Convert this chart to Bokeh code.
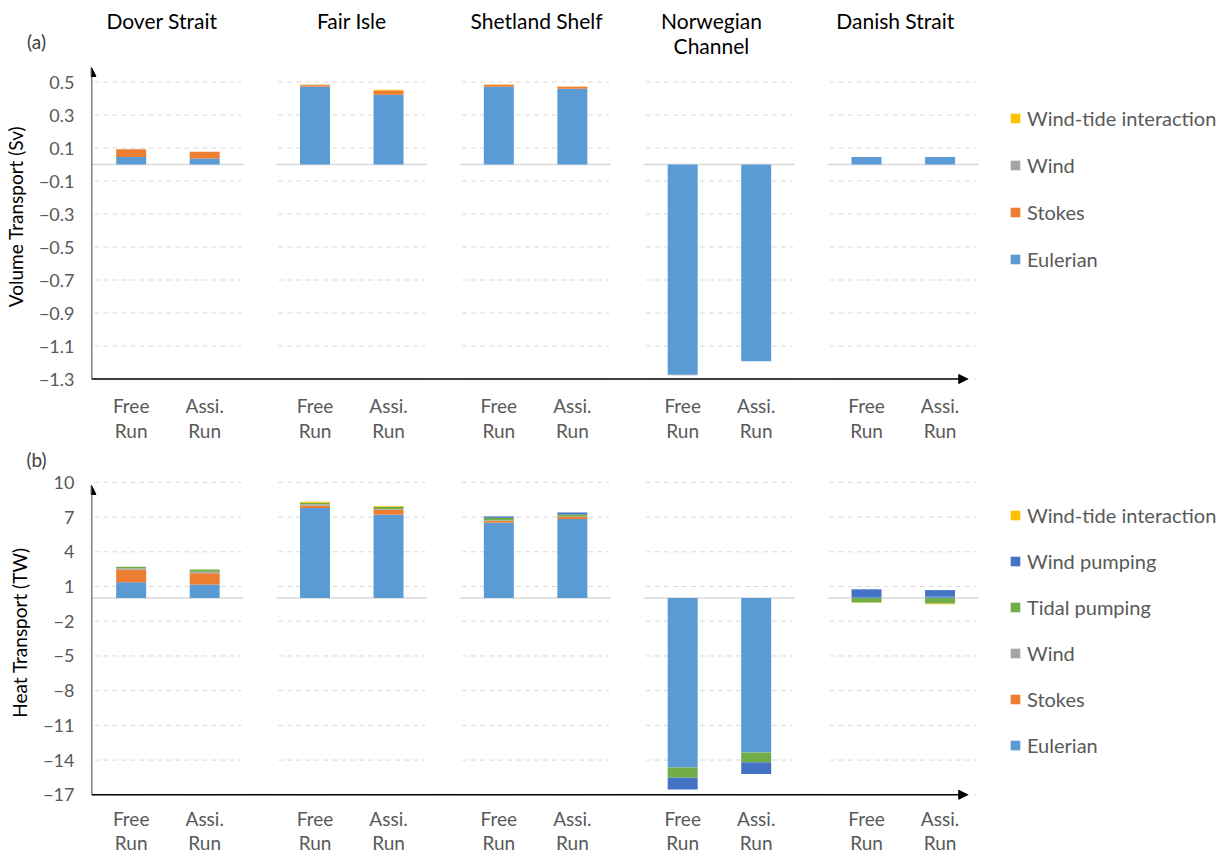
import numpy as np
from bokeh.plotting import figure
from bokeh.models import Range1d, FixedTicker, Legend, LegendItem, Arrow, NormalHead
from bokeh.layouts import column
from bokeh.embed import file_html
from bokeh.resources import INLINE
from bokeh.core.properties import value

# ---------------- data ----------------
stations = ["Dover Strait", "Fair Isle", "Shetland Shelf", "Norwegian\nChannel", "Danish Strait"]
run_line1 = ["Free", "Assi."]
run_line2 = ["Run", "Run"]

# (a) Volume transport (Sv); order: station by station, Free Run then Assi. Run
vol_eulerian = [0.045, 0.037, 0.471, 0.423, 0.471, 0.459, -1.274, -1.193, 0.046, 0.046]
vol_stokes = [0.047, 0.041, 0.010, 0.026, 0.012, 0.012, 0.0, 0.0, 0.0, 0.0]
vol_wind = [0.0, 0.0, 0.002, 0.0, 0.0, 0.0, -0.004, 0.0, 0.0, 0.0]
vol_windtide = [0.0, 0.0, 0.002, 0.004, 0.002, 0.002, 0.0, 0.0, 0.0, 0.0]

# (b) Heat transport (TW)
heat_eulerian = [1.37, 1.17, 7.79, 7.21, 6.52, 6.83, -14.65, -13.35, 0.10, 0.12]
heat_stokes = [1.07, 0.98, 0.20, 0.43, 0.15, 0.18, 0.0, 0.0, 0.0, 0.0]
heat_wind = [0.12, 0.12, 0.12, 0.05, 0.05, 0.05, 0.0, 0.0, 0.0, 0.0]
heat_tidal = [0.15, 0.20, 0.14, 0.20, 0.22, 0.17, -0.87, -0.84, -0.38, -0.48]
heat_windpump = [0.0, 0.0, 0.0, 0.0, 0.12, 0.17, -1.02, -1.02, 0.66, 0.57]
heat_windtide = [0.0, 0.0, 0.08, 0.06, 0.0, 0.0, 0.0, 0.0, -0.02, -0.05]

vol_ticks = [0.5, 0.3, 0.1, -0.1, -0.3, -0.5, -0.7, -0.9, -1.1, -1.3]
heat_ticks = [10, 7, 4, 1, -2, -5, -8, -11, -14, -17]

COLORS = {"Eulerian": "#5B9BD5", "Stokes": "#ED7D31", "Wind": "#A5A5A5",
          "Tidal pumping": "#70AD47", "Wind pumping": "#4472C4",
          "Wind-tide interaction": "#FFC000"}

FONT = "Lato"
GREY_TXT = "#595959"

# ---------------- layout helpers ----------------
FIG_W = 1223
FRAME_L = 90
X0_PAGE = 166.5      # page x of first station centre
PX_STATION = 184.0   # px between station centres
TITLE_DX = [-6, 0, 1, -8, -8]   # small screen-px nudges of the station titles


def xr(px):
    return (px - X0_PAGE) / PX_STATION


bar_x = [i + off for i in range(len(stations)) for off in (-0.2, 0.2)]


def stack(series):
    n = len(series[0])
    pos = np.zeros(n)
    neg = np.zeros(n)
    out = []
    for s in series:
        s = np.asarray(s, float)
        bottom = np.where(s >= 0, pos, neg)
        top = bottom + s
        pos = np.where(s >= 0, top, pos)
        neg = np.where(s < 0, top, neg)
        out.append((bottom, top))
    return out


def panel(names, vals, zero_py, ppu, fig_top, fig_h, fr_top, fr_bot, ticks,
          ylabel, tag, tag_py, show_titles, leg_top, leg_spacing, cat1_py, cat2_py,
          arrow_tip_py):
    def yv(py):
        return (zero_py - py) / ppu

    p = figure(width=FIG_W, height=fig_h,
               x_range=Range1d(xr(FRAME_L), xr(FIG_W)),
               y_range=Range1d(yv(fr_bot), yv(fr_top)),
               output_backend="svg", toolbar_location=None,
               x_axis_location=None,
               min_border_left=FRAME_L, min_border_right=0,
               min_border_top=fr_top - fig_top,
               min_border_bottom=fig_top + fig_h - fr_bot,
               outline_line_color=None)
    p.xgrid.visible = False
    p.ygrid.visible = False

    ax = p.yaxis[0]
    ax.ticker = FixedTicker(ticks=ticks)
    ax.axis_line_color = None
    ax.major_tick_line_color = None
    ax.minor_tick_line_color = None
    ax.major_tick_out = 0
    ax.major_tick_in = 0
    ax.minor_tick_out = 0
    ax.minor_tick_in = 0
    ax.major_label_standoff = 17
    ax.major_label_text_font = FONT
    ax.major_label_text_font_size = "18px"
    ax.major_label_text_color = GREY_TXT
    ax.axis_label = ylabel
    ax.axis_label_text_font = FONT
    ax.axis_label_text_font_size = "19px"
    ax.axis_label_text_font_style = "normal"
    ax.axis_label_text_color = "#000000"
    ax.axis_label_standoff = 9

    ns = len(stations)
    # dashed gridlines, per station block
    gx0 = [i - 0.40 for i in range(ns) for t in ticks]
    gx1 = [i + 0.40 for i in range(ns) for t in ticks]
    gy = [t for i in range(ns) for t in ticks]
    p.segment(x0=gx0, y0=gy, x1=gx1, y1=gy, line_color="#D9D9D9",
              line_dash="5 4", line_width=1)
    # zero lines
    zx0 = [xr(FRAME_L)] + [i - 0.41 for i in range(1, ns)]
    zx1 = [i + 0.41 for i in range(ns)]
    p.segment(x0=zx0, y0=[0] * ns, x1=zx1, y1=[0] * ns,
              line_color="#D9D9D9", line_width=1.5)

    # stacked bars
    rends = {}
    for name, (bot, top) in zip(names, stack(vals)):
        r = p.vbar(x=bar_x, bottom=bot, top=top, width=30 / PX_STATION,
                   fill_color=COLORS[name], line_color=None)
        rends[name] = r

    # axis arrows
    xa = xr(FRAME_L)
    ybot = ticks[-1]
    p.add_layout(Arrow(end=NormalHead(size=9, fill_color="black", line_color="black"),
                       x_start=xa, y_start=ybot, x_end=xa, y_end=yv(arrow_tip_py),
                       line_color="black", line_width=1.5))
    p.add_layout(Arrow(end=NormalHead(size=9, fill_color="black", line_color="black"),
                       x_start=xa, y_start=ybot, x_end=xr(967), y_end=ybot,
                       line_color="black", line_width=1.5))

    # category labels
    t1 = p.text(x=bar_x, y=[yv(cat1_py)] * len(bar_x), text=run_line1 * ns,
                text_font=value(FONT), text_font_size="19px", text_color=GREY_TXT,
                text_align="center", text_baseline="middle")
    t2 = p.text(x=bar_x, y=[yv(cat2_py)] * len(bar_x), text=run_line2 * ns,
                text_font=value(FONT), text_font_size="19px", text_color=GREY_TXT,
                text_align="center", text_baseline="middle")
    t1.level = "overlay"
    t2.level = "overlay"

    if show_titles:
        tt = p.text(x=list(range(ns)), y=[yv(fig_top + 7)] * ns, text=stations,
                    x_offset=TITLE_DX,
                    text_font=value(FONT), text_font_size="21px", text_color="#000000",
                    text_align="center", text_baseline="top", text_line_height=1.03)
        tt.level = "overlay"

    tg = p.text(x=[xr(35)], y=[yv(tag_py)], text=[tag], text_font=value(FONT),
                text_font_size="19px", text_color="#404040", text_align="center",
                text_baseline="middle")
    tg.level = "overlay"

    items = [LegendItem(label=n, renderers=[rends[n]]) for n in reversed(names)]
    n = len(items)
    lab_h = 24
    leg_h = n * lab_h + (n - 1) * leg_spacing
    leg_bottom = leg_top + leg_h
    legend = Legend(items=items, location=(1008 - FRAME_L, fr_bot - leg_bottom),
                    orientation="vertical", padding=0, margin=0,
                    spacing=leg_spacing, label_height=lab_h, glyph_height=12,
                    glyph_width=12, label_standoff=6,
                    label_text_font=FONT, label_text_font_size="20px",
                    label_text_color=GREY_TXT, border_line_color=None,
                    background_fill_alpha=0)
    p.add_layout(legend)
    return p


pa = panel(["Eulerian", "Stokes", "Wind", "Wind-tide interaction"],
           [vol_eulerian, vol_stokes, vol_wind, vol_windtide],
           zero_py=164.0, ppu=165.0, fig_top=0, fig_h=448, fr_top=40, fr_bot=392,
           ticks=vol_ticks, ylabel="Volume Transport (Sv)", tag="(a)", tag_py=41,
           show_titles=True, leg_top=106, leg_spacing=23, cat1_py=405, cat2_py=430,
           arrow_tip_py=67)

pb = panel(["Eulerian", "Stokes", "Wind", "Tidal pumping", "Wind pumping", "Wind-tide interaction"],
           [heat_eulerian, heat_stokes, heat_wind, heat_tidal, heat_windpump, heat_windtide],
           zero_py=597.6, ppu=11.57, fig_top=448, fig_h=408, fr_top=464, fr_bot=800,
           ticks=heat_ticks, ylabel="Heat Transport (TW)", tag="(b)", tag_py=459,
           show_titles=False, leg_top=503, leg_spacing=22, cat1_py=818, cat2_py=842,
           arrow_tip_py=485)

layout = column(pa, pb, spacing=0)
open("out.html", "w").write(file_html(layout, INLINE))
